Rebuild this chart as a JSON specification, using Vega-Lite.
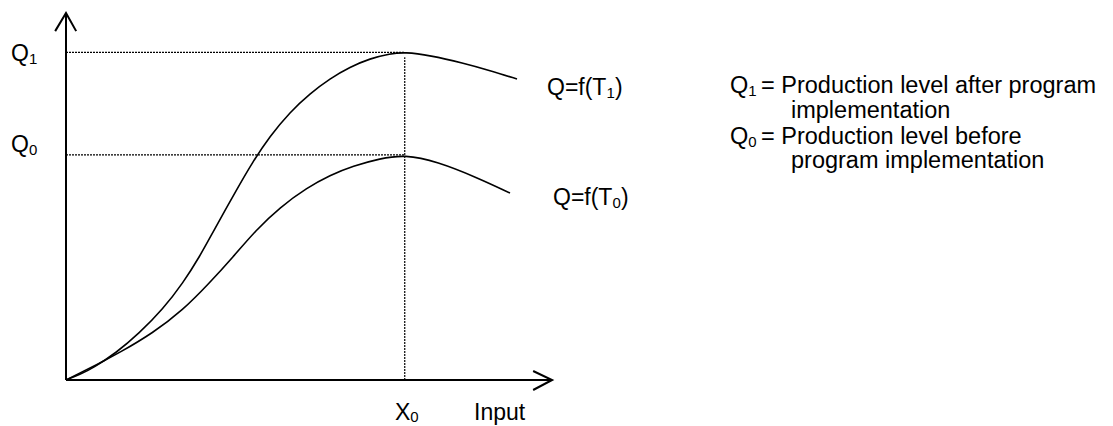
{
  "$schema": "https://vega.github.io/schema/vega-lite/v6.json",
  "autosize": "none",
  "width": 542,
  "height": 380,
  "padding": {"left": 66, "top": 0, "right": 505, "bottom": 46},
  "background": "white",
  "config": {"view": {"stroke": null}},
  "datasets": {
    "curves": [
      {"curve": "T1", "i": 0, "x": 0, "y": 0},
      {"curve": "T1", "i": 1, "x": 0.413, "y": 0.168},
      {"curve": "T1", "i": 2, "x": 0.797, "y": 0.366},
      {"curve": "T1", "i": 3, "x": 1.476, "y": 0.824},
      {"curve": "T1", "i": 4, "x": 2.155, "y": 1.419},
      {"curve": "T1", "i": 5, "x": 2.863, "y": 2.167},
      {"curve": "T1", "i": 6, "x": 3.454, "y": 2.961},
      {"curve": "T1", "i": 7, "x": 3.956, "y": 3.785},
      {"curve": "T1", "i": 8, "x": 4.339, "y": 4.518},
      {"curve": "T1", "i": 9, "x": 5.048, "y": 5.83},
      {"curve": "T1", "i": 10, "x": 5.491, "y": 6.624},
      {"curve": "T1", "i": 11, "x": 6.022, "y": 7.448},
      {"curve": "T1", "i": 12, "x": 6.613, "y": 8.181},
      {"curve": "T1", "i": 13, "x": 7.203, "y": 8.745},
      {"curve": "T1", "i": 14, "x": 7.793, "y": 9.203},
      {"curve": "T1", "i": 15, "x": 8.384, "y": 9.554},
      {"curve": "T1", "i": 16, "x": 8.974, "y": 9.814},
      {"curve": "T1", "i": 17, "x": 9.565, "y": 9.96},
      {"curve": "T1", "i": 18, "x": 10.0, "y": 10.01},
      {"curve": "T1", "i": 19, "x": 10.745, "y": 9.91},
      {"curve": "T1", "i": 20, "x": 11.72, "y": 9.676},
      {"curve": "T1", "i": 21, "x": 12.517, "y": 9.447},
      {"curve": "T1", "i": 22, "x": 13.314, "y": 9.188},
      {"curve": "T0", "i": 0, "x": 0, "y": 0},
      {"curve": "T0", "i": 1, "x": 0.295, "y": 0.153},
      {"curve": "T0", "i": 2, "x": 0.886, "y": 0.458},
      {"curve": "T0", "i": 3, "x": 1.565, "y": 0.824},
      {"curve": "T0", "i": 4, "x": 2.568, "y": 1.435},
      {"curve": "T0", "i": 5, "x": 3.454, "y": 2.137},
      {"curve": "T0", "i": 6, "x": 4.221, "y": 2.946},
      {"curve": "T0", "i": 7, "x": 4.93, "y": 3.755},
      {"curve": "T0", "i": 8, "x": 5.609, "y": 4.579},
      {"curve": "T0", "i": 9, "x": 6.317, "y": 5.275},
      {"curve": "T0", "i": 10, "x": 7.114, "y": 5.867},
      {"curve": "T0", "i": 11, "x": 7.793, "y": 6.252},
      {"curve": "T0", "i": 12, "x": 8.472, "y": 6.532},
      {"curve": "T0", "i": 13, "x": 9.269, "y": 6.76},
      {"curve": "T0", "i": 14, "x": 10.0, "y": 6.88},
      {"curve": "T0", "i": 15, "x": 10.952, "y": 6.67},
      {"curve": "T0", "i": 16, "x": 12.133, "y": 6.181},
      {"curve": "T0", "i": 17, "x": 13.107, "y": 5.708}
    ],
    "axes": [
      {"seg": "yaxis", "i": 0, "x": 0, "y": 0},
      {"seg": "yaxis", "i": 1, "x": 0, "y": 11.2},
      {"seg": "yarrow", "i": 0, "x": -0.32, "y": 10.65},
      {"seg": "yarrow", "i": 1, "x": 0, "y": 11.2},
      {"seg": "yarrow", "i": 2, "x": 0.3, "y": 10.65},
      {"seg": "xaxis", "i": 0, "x": 0, "y": 0},
      {"seg": "xaxis", "i": 1, "x": 14.35, "y": 0},
      {"seg": "xarrow", "i": 0, "x": 13.79, "y": 0.275},
      {"seg": "xarrow", "i": 1, "x": 14.35, "y": 0},
      {"seg": "xarrow", "i": 2, "x": 13.79, "y": -0.305}
    ],
    "guides": [
      {"seg": "q1", "i": 0, "x": 0, "y": 10},
      {"seg": "q1", "i": 1, "x": 10, "y": 10},
      {"seg": "q0", "i": 0, "x": 0, "y": 6.87},
      {"seg": "q0", "i": 1, "x": 10, "y": 6.87},
      {"seg": "x0", "i": 0, "x": 10, "y": 0},
      {"seg": "x0", "i": 1, "x": 10, "y": 9.85}
    ],
    "labels": [
      {"text": "Q", "x": -1.624, "y": 9.738},
      {"text": "Q", "x": -1.624, "y": 6.96},
      {"text": "Q=f(T", "x": 14.199, "y": 8.7},
      {"text": ")", "x": 16.207, "y": 8.7},
      {"text": "Q=f(T", "x": 14.376, "y": 5.342},
      {"text": ")", "x": 16.384, "y": 5.342},
      {"text": "X", "x": 9.712, "y": -1.236},
      {"text": "Input", "x": 12.044, "y": -1.236}
    ],
    "subs": [
      {"text": "1", "x": -1.095, "y": 9.646},
      {"text": "0", "x": -1.095, "y": 6.868},
      {"text": "1", "x": 15.953, "y": 8.608},
      {"text": "0", "x": 16.133, "y": 5.25},
      {"text": "0", "x": 10.164, "y": -1.282},
      {"text": "1", "x": 20.142, "y": 8.669},
      {"text": "0", "x": 20.142, "y": 7.112}
    ],
    "legend": [
      {"text": "Q", "x": 19.601, "y": 8.761},
      {"text": "= Production level after program", "x": 20.517, "y": 8.761},
      {"text": "implementation", "x": 21.402, "y": 7.998},
      {"text": "Q", "x": 19.601, "y": 7.204},
      {"text": "= Production level before", "x": 20.517, "y": 7.204},
      {"text": "program implementation", "x": 21.402, "y": 6.471}
    ]
  },
  "layer": [
    {
      "data": {"name": "guides"},
      "mark": {"type": "line", "color": "black", "strokeWidth": 1.2, "strokeDash": [2, 1], "clip": false},
      "encoding": {
        "x": {"field": "x", "type": "quantitative", "scale": {"domain": [0, 16], "nice": false, "zero": false}, "axis": null},
        "y": {"field": "y", "type": "quantitative", "scale": {"domain": [0, 11.6], "nice": false, "zero": false}, "axis": null},
        "detail": {"field": "seg"},
        "order": {"field": "i", "type": "quantitative"}
      }
    },
    {
      "data": {"name": "curves"},
      "mark": {"type": "line", "color": "black", "strokeWidth": 1.6, "interpolate": "basis", "clip": false},
      "encoding": {
        "x": {"field": "x", "type": "quantitative", "axis": null},
        "y": {"field": "y", "type": "quantitative", "axis": null},
        "detail": {"field": "curve"},
        "order": {"field": "i", "type": "quantitative"}
      }
    },
    {
      "data": {"name": "axes"},
      "mark": {"type": "line", "color": "black", "strokeWidth": 2, "clip": false},
      "encoding": {
        "x": {"field": "x", "type": "quantitative", "axis": null},
        "y": {"field": "y", "type": "quantitative", "axis": null},
        "detail": {"field": "seg"},
        "order": {"field": "i", "type": "quantitative"}
      }
    },
    {
      "data": {"name": "labels"},
      "mark": {"type": "text", "align": "left", "baseline": "alphabetic", "font": "Liberation Sans", "fontSize": 23, "color": "black", "clip": false},
      "encoding": {
        "x": {"field": "x", "type": "quantitative", "axis": null},
        "y": {"field": "y", "type": "quantitative", "axis": null},
        "text": {"field": "text"}
      }
    },
    {
      "data": {"name": "subs"},
      "mark": {"type": "text", "align": "left", "baseline": "alphabetic", "font": "Liberation Sans", "fontSize": 15, "color": "black", "clip": false},
      "encoding": {
        "x": {"field": "x", "type": "quantitative", "axis": null},
        "y": {"field": "y", "type": "quantitative", "axis": null},
        "text": {"field": "text"}
      }
    },
    {
      "data": {"name": "legend"},
      "mark": {"type": "text", "align": "left", "baseline": "alphabetic", "font": "Liberation Sans", "fontSize": 23.5, "color": "black", "clip": false},
      "encoding": {
        "x": {"field": "x", "type": "quantitative", "axis": null},
        "y": {"field": "y", "type": "quantitative", "axis": null},
        "text": {"field": "text"}
      }
    }
  ]
}
